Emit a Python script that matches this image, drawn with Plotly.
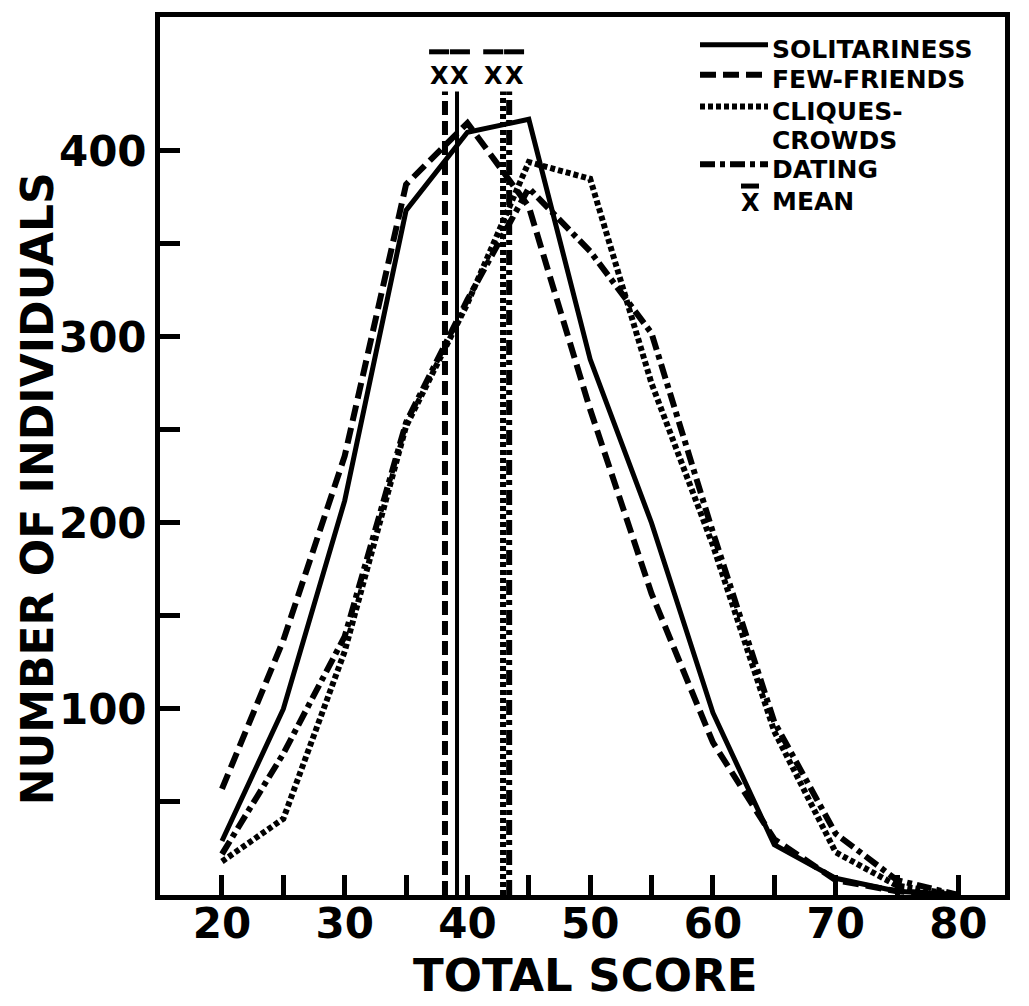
import plotly.graph_objects as go

# ---------------- data ----------------
scores = [20, 25, 30, 35, 40, 45, 50, 55, 60, 65, 70, 75, 80]
solitariness = [29, 100, 212, 368, 410, 417, 288, 200, 98, 27, 9, 2, 0]
few_friends = [57, 137, 236, 382, 415, 370, 261, 162, 82, 30, 8, 2, 0]
cliques_crowds = [18, 41, 131, 252, 318, 394, 385, 275, 188, 88, 23, 5, 0]
dating = [22, 76, 139, 254, 320, 380, 346, 302, 195, 93, 33, 8, 0]

series_names = ["SOLITARINESS", "FEW-FRIENDS", "CLIQUES-CROWDS", "DATING"]
legend_lines = [["SOLITARINESS"], ["FEW-FRIENDS"], ["CLIQUES-", "CROWDS"], ["DATING"]]
means = [39.15, 38.17, 42.9, 43.4]  # solitariness, few-friends, cliques, dating
mean_label = "MEAN"

x_tick_vals = list(range(20, 81, 5))
x_tick_text = [str(v) if v % 10 == 0 else "" for v in x_tick_vals]
y_tick_vals = list(range(50, 401, 50))
y_tick_text = [str(v) if v % 100 == 0 else "" for v in y_tick_vals]

# ---------------- styles / layout helpers ----------------
BOLD = "DejaVu Sans"
W, H = 1029, 1006
ML, MR, MT, MB = 160, 24, 12, 111
PW, PH = W - ML - MR, H - MT - MB
X_RANGE = [14.95, 83.8]


def px(x):   # pixel x -> paper
    return (x - ML) / PW


def py(y):   # pixel y -> paper
    return (H - MB - y) / PH


def dx(v):   # data x -> paper
    return (v - X_RANGE[0]) / (X_RANGE[1] - X_RANGE[0])


styles = [
    dict(dash="solid", width=5),
    dict(dash="16px,7px", width=6),
    dict(dash="5px,3px", width=6),
    dict(dash="15px,5px,5px,5px", width=6),
]
mean_styles = [
    dict(dash="solid", width=4),
    dict(dash="14px,6px", width=6),
    dict(dash="5px,3px", width=6),
    dict(dash="15px,5px,5px,5px", width=6),
]

fig = go.Figure()
for name, ys, st in zip(series_names, [solitariness, few_friends, cliques_crowds, dating], styles):
    fig.add_trace(go.Scatter(
        x=scores, y=ys, mode="lines", name=name, showlegend=False,
        line=dict(color="black", width=st["width"], dash=st["dash"]),
    ))

MEAN_TOP = py(87)
for m, st in zip(means, mean_styles):
    fig.add_shape(type="line", xref="x", yref="paper", x0=m, x1=m, y0=0, y1=MEAN_TOP,
                  line=dict(color="black", width=st["width"], dash=st["dash"]))

# X-bar labels above the pairs of mean lines
pairs = [((means[0] + means[1]) / 2 - 0.12), ((means[2] + means[3]) / 2 - 0.2)]
X_HALF = 0.85          # half distance between the two X's of a pair (data units)
BAR_PX = 20            # length of each over-bar in px
for c in pairs:
    for s in (-1, 1):
        xc = c + s * X_HALF
        fig.add_annotation(x=xc, y=py(71), xref="x", yref="paper", text="<b>X</b>", showarrow=False,
                           xanchor="center", yanchor="middle",
                           font=dict(family=BOLD, size=24, color="black"))
        pc = dx(xc)
        fig.add_shape(type="line", xref="paper", yref="paper",
                      x0=pc - BAR_PX / 2 / PW, x1=pc + BAR_PX / 2 / PW, y0=py(47), y1=py(47),
                      line=dict(color="black", width=5))

# ---------------- hand-placed legend ----------------
sample_y = [40, 70, 102, 160]
text_rows = [[45], [75], [107, 136], [165]]
for st, sy, lines, rows in zip(styles, sample_y, legend_lines, text_rows):
    fig.add_shape(type="line", xref="paper", yref="paper", x0=px(700), x1=px(768),
                  y0=py(sy), y1=py(sy),
                  line=dict(color="black", width=st["width"], dash=st["dash"]))
    for txt, ry in zip(lines, rows):
        fig.add_annotation(x=px(770), y=py(ry), xref="paper", yref="paper", text=f"<b>{txt}</b>",
                           showarrow=False, xanchor="left", yanchor="middle",
                           font=dict(family=BOLD, size=25, color="black"))
fig.add_annotation(x=px(750), y=py(199), xref="paper", yref="paper", text="<b>X</b>", showarrow=False,
                   xanchor="center", yanchor="middle", font=dict(family=BOLD, size=24, color="black"))
fig.add_shape(type="line", xref="paper", yref="paper", x0=px(741), x1=px(759), y0=py(182), y1=py(182),
              line=dict(color="black", width=5))
fig.add_annotation(x=px(770), y=py(198), xref="paper", yref="paper", text=f"<b>{mean_label}</b>",
                   showarrow=False, xanchor="left", yanchor="middle",
                   font=dict(family=BOLD, size=25, color="black"))

# axis titles
fig.add_annotation(x=px(585), y=py(976), xref="paper", yref="paper", text="<b>TOTAL SCORE</b>",
                   showarrow=False, xanchor="center", yanchor="middle",
                   font=dict(family=BOLD, size=45, color="black"))
fig.add_annotation(x=px(37), y=py(487), xref="paper", yref="paper", text="<b>NUMBER OF INDIVIDUALS</b>",
                   showarrow=False, textangle=-90, xanchor="center", yanchor="middle",
                   font=dict(family=BOLD, size=44, color="black"))

axis_common = dict(
    showline=True, linecolor="black", linewidth=5, mirror=True,
    ticks="inside", ticklen=20, tickwidth=5, tickcolor="black",
    showgrid=False, zeroline=False,
    tickfont=dict(family=BOLD, size=42, color="black", weight="bold"),
)

fig.update_layout(
    width=W, height=H,
    margin=dict(l=ML, r=MR, t=MT, b=MB),
    paper_bgcolor="white", plot_bgcolor="white",
    showlegend=False,
    xaxis=dict(range=X_RANGE, tickvals=x_tick_vals, ticktext=x_tick_text,
               ticklabelstandoff=-12, **axis_common),
    yaxis=dict(range=[0, 472], tickvals=y_tick_vals, ticktext=y_tick_text, **axis_common),
)

fig.write_html("out.html")
